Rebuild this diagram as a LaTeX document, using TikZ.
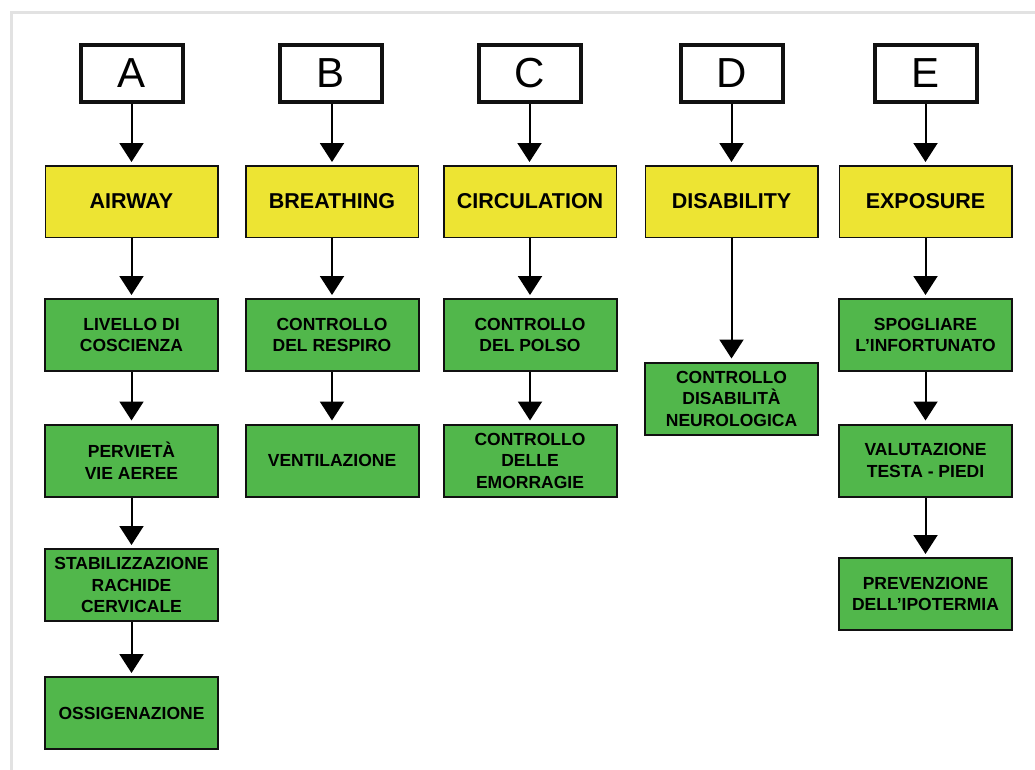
\documentclass[tikz,border=0pt]{standalone}
\usepackage{fontspec}
\setmainfont{Liberation Sans}
\usetikzlibrary{arrows.meta}
\definecolor{boxyellow}{HTML}{EDE433}
\definecolor{boxgreen}{HTML}{51B74B}
\definecolor{framegray}{HTML}{E2E2E2}
\definecolor{inkblack}{HTML}{111111}

\begin{document}
\begin{tikzpicture}[x=1pt,y=-1pt,
  letterbox/.style={draw=inkblack,line width=4pt,fill=white,
    minimum width=102pt,minimum height=57pt,inner sep=0pt,
    font=\fontsize{42}{42}\selectfont},
  phasebox/.style={draw=inkblack,line width=1.5pt,fill=boxyellow,
    minimum width=172.5pt,minimum height=71.5pt,inner sep=0pt,
    font=\bfseries\fontsize{21.5}{24}\selectfont},
  actionbox/.style={draw=inkblack,line width=2pt,fill=boxgreen,
    minimum width=173pt,minimum height=72pt,inner sep=0pt,align=center,
    font=\bfseries\fontsize{17.5}{21.5}\selectfont},
  flow/.style={draw=black,line width=2pt,
    -{Triangle[width=24pt,length=19pt]},shorten >=3pt}]

\clip (0,0) rectangle (1035,769);
\fill[white] (0,0) rectangle (1035,769);
% light frame around the chart
\draw[framegray,line width=3pt] (11.5,800) -- (11.5,12.5) -- (1060,12.5);

% column A
\node[letterbox] (la) at (131.5,73.5) {A};
\node[phasebox] (ya) at (131.5,201.5) {AIRWAY};
\node[actionbox] (a1) at (131.5,335) {LIVELLO DI\\COSCIENZA};
\node[actionbox] (a2) at (131.5,460.5) {PERVIETÀ\\VIE AEREE};
\node[actionbox] (a3) at (131.5,585) {STABILIZZAZIONE\\RACHIDE\\CERVICALE};
\node[actionbox] (a4) at (131.5,713) {OSSIGENAZIONE};

% column B
\node[letterbox] (lb) at (331,73.5) {B};
\node[phasebox] (yb) at (332,201.5) {BREATHING};
\node[actionbox] (b1) at (332,335) {CONTROLLO\\DEL RESPIRO};
\node[actionbox] (b2) at (332,460.5) {VENTILAZIONE};

% column C
\node[letterbox] (lc) at (529.5,73.5) {C};
\node[phasebox] (yc) at (530,201.5) {CIRCULATION};
\node[actionbox] (c1) at (530,335) {CONTROLLO\\DEL POLSO};
\node[actionbox] (c2) at (530,460.5) {CONTROLLO\\DELLE\\EMORRAGIE};

% column D
\node[letterbox] (ld) at (731.5,73.5) {D};
\node[phasebox] (yd) at (731.5,201.5) {DISABILITY};
\node[actionbox] (d1) at (731.5,398.5) {CONTROLLO\\DISABILITÀ\\NEUROLOGICA};

% column E
\node[letterbox] (le) at (925.5,73.5) {E};
\node[phasebox] (ye) at (925.5,201.5) {EXPOSURE};
\node[actionbox] (e1) at (925.5,335) {SPOGLIARE\\L’INFORTUNATO};
\node[actionbox] (e2) at (925.5,460.5) {VALUTAZIONE\\TESTA - PIEDI};
\node[actionbox] (e3) at (925.5,594) {PREVENZIONE\\DELL’IPOTERMIA};

% connectors
\draw[flow] (la) -- (ya);
\draw[flow] (ya) -- (a1);
\draw[flow] (a1) -- (a2);
\draw[flow] (a2) -- (a3);
\draw[flow] (a3) -- (a4);

\draw[flow] (lb.south -| yb) -- (yb);
\draw[flow] (yb) -- (b1);
\draw[flow] (b1) -- (b2);

\draw[flow] (lc) -- (yc.north -| lc);
\draw[flow] (yc) -- (c1);
\draw[flow] (c1) -- (c2);

\draw[flow] (ld) -- (yd);
\draw[flow] (yd) -- (d1);

\draw[flow] (le) -- (ye);
\draw[flow] (ye) -- (e1);
\draw[flow] (e1) -- (e2);
\draw[flow] (e2) -- (e3);
\end{tikzpicture}
\end{document}
